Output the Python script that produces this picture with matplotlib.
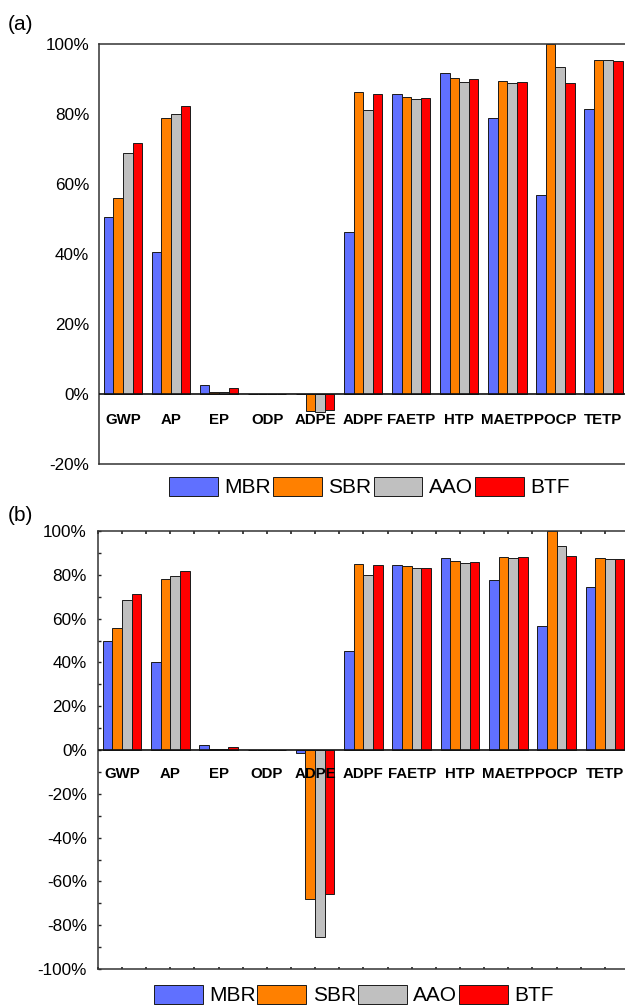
import numpy as np
import matplotlib.pyplot as plt
from matplotlib.ticker import FuncFormatter, MultipleLocator

plt.rcParams['font.family'] = ['Liberation Sans', 'DejaVu Sans']
plt.rcParams['axes.unicode_minus'] = False

# impact categories
cats = ['GWP', 'AP', 'EP', 'ODP', 'ADPE', 'ADPF', 'FAETP', 'HTP', 'MAETP', 'POCP', 'TETP']
names = ['MBR', 'SBR', 'AAO', 'BTF']
colors = ['#6070ff', '#ff8000', '#c0c0c0', '#ff0000']

# panel (a) values, %
a_mbr = [50.5, 40.7, 2.6, 0, 0, 46.2, 85.8, 91.7, 78.9, 57.0, 81.4]
a_sbr = [56.0, 78.9, 0.7, 0, -4.9, 86.2, 84.9, 90.3, 89.5, 100, 95.3]
a_aao = [68.9, 80.1, 0.5, 0, -5.2, 81.1, 84.3, 89.2, 88.9, 93.5, 95.3]
a_btf = [71.8, 82.2, 1.6, 0, -4.6, 85.8, 84.5, 90.0, 89.1, 88.9, 95.1]

# panel (b) values, %
b_mbr = [50.0, 40.4, 2.4, 0, -1.2, 45.4, 84.7, 87.5, 77.8, 56.6, 74.6]
b_sbr = [55.8, 78.3, 0.5, 0, -68.1, 84.9, 83.8, 86.2, 88.1, 100, 87.6]
b_aao = [68.7, 79.4, 0.3, 0, -85.5, 80.0, 83.2, 85.2, 87.6, 93.1, 87.3]
b_btf = [71.2, 81.7, 1.4, 0, -65.8, 84.6, 83.3, 85.9, 87.9, 88.4, 87.3]

fig = plt.figure(figsize=(6.25, 10.07), dpi=100)
ax_a = fig.add_axes([0.1584, 0.5392, 0.8454, 0.4171])
ax_b = fig.add_axes([0.1566, 0.0377, 0.8498, 0.4350])

pct = FuncFormatter(lambda v, p: '%d%%' % v)
x = np.arange(len(cats))
w = 0.2


def draw(ax, series, ymin, label_off):
    for k, vals in enumerate(series):
        ax.bar(x - 0.3 + k * w, vals, w, color=colors[k], edgecolor='#1a1a1a',
               linewidth=0.7, label=names[k], zorder=2)
    ax.axhline(0, color='#111111', lw=1.2, zorder=3)
    ax.set_xlim(-0.5, 10.5)
    ax.set_ylim(ymin, 100)
    ax.yaxis.set_major_formatter(pct)
    ax.yaxis.set_major_locator(MultipleLocator(20))
    ax.set_xticks([])
    for s in ['left', 'top', 'bottom']:
        ax.spines[s].set_color('#333333')
        ax.spines[s].set_linewidth(1.1)
    ax.spines['right'].set_visible(False)
    ax.tick_params(axis='y', labelsize=12.3)
    for i, c in enumerate(cats):
        ax.annotate(c, xy=(i, 0), xytext=(0, label_off), textcoords='offset points',
                    ha='center', va='center', fontsize=10.8, fontweight='bold', zorder=4)


draw(ax_a, [a_mbr, a_sbr, a_aao, a_btf], -20, -19)
ax_a.tick_params(axis='y', length=0, pad=7)

draw(ax_b, [b_mbr, b_sbr, b_aao, b_btf], -100, -17.5)
ax_b.yaxis.set_minor_locator(MultipleLocator(10))
ax_b.tick_params(axis='y', which='both', direction='in', length=2.5, width=1, pad=8,
                 color='#222222')
ax_b.xaxis.set_minor_locator(MultipleLocator(0.5))
ax_b.tick_params(axis='x', which='minor', direction='in', top=True, bottom=True,
                 length=1.8, width=1.2, color='#222222')

for ax, lx, ly in [(ax_a, 0.591, 0.5164), (ax_b, 0.566, 0.0119)]:
    h, l = ax.get_legend_handles_labels()
    fig.legend(h, l, loc='center', bbox_to_anchor=(lx, ly),
               ncol=4, frameon=False, fontsize=15, handlelength=2.35, handleheight=1.06,
               handletextpad=0.3, columnspacing=0.1, borderaxespad=0, borderpad=0)

fig.text(0.013, 0.976, '(a)', fontsize=15, ha='left', va='center')
fig.text(0.013, 0.488, '(b)', fontsize=15, ha='left', va='center')

fig.savefig('out.png', dpi=100)
